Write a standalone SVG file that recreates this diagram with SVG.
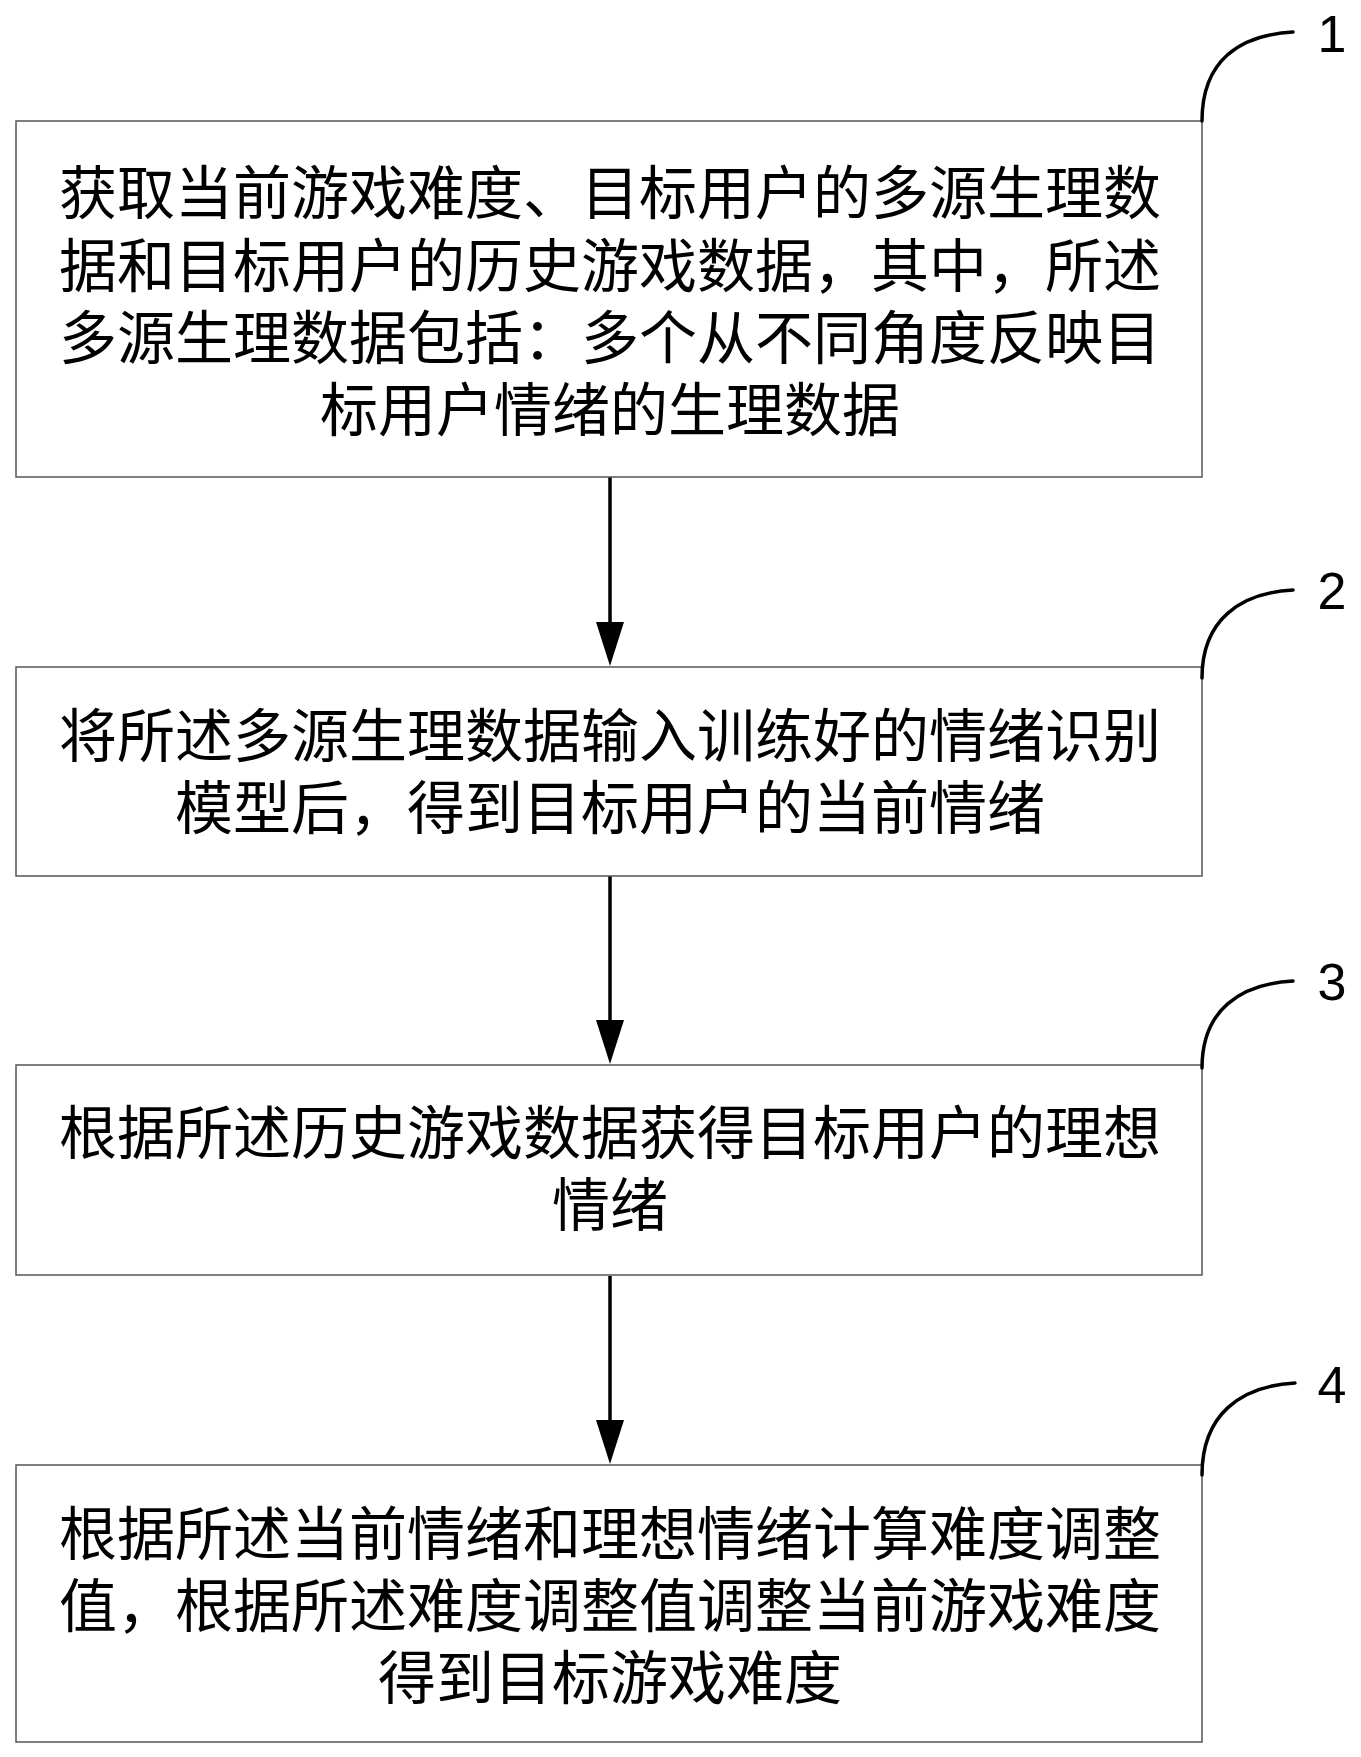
<svg xmlns="http://www.w3.org/2000/svg" width="1361" height="1757" viewBox="0 0 1361 1757">
<defs>
<style>
.box{fill:#fff;stroke:#555;stroke-width:1.5}
.t{font-family:"Noto Sans CJK SC","Noto Sans CJK JP",sans-serif;font-size:58px;fill:#000;text-anchor:middle}
.num{font-family:"Liberation Sans","Open Sans",sans-serif;font-size:52px;fill:#000;text-anchor:middle}
.lead{fill:none;stroke:#000;stroke-width:3.5;stroke-linecap:round}
.arr{stroke:#000;stroke-width:3.5;fill:none}
.head{fill:#000}
</style>
</defs>
<rect width="1361" height="1757" fill="#fff"/>
<g id="connectors">
<line class="arr" x1="610" y1="477" x2="610" y2="625"/>
<polygon class="head" points="596,622 624,622 610,666"/>
<line class="arr" x1="610" y1="876" x2="610" y2="1023"/>
<polygon class="head" points="596,1020 624,1020 610,1064"/>
<line class="arr" x1="610" y1="1276" x2="610" y2="1423"/>
<polygon class="head" points="596,1420 624,1420 610,1464"/>
</g>
<g id="node1">
<rect class="box" x="16" y="121" width="1186" height="356"/>
<text class="t" x="610" y="214">获取当前游戏难度、目标用户的多源生理数</text>
<text class="t" x="610" y="287">据和目标用户的历史游戏数据，其中，所述</text>
<text class="t" x="610" y="359">多源生理数据包括：多个从不同角度反映目</text>
<text class="t" x="610" y="431">标用户情绪的生理数据</text>
</g>
<g id="label1">
<path class="lead" d="M1202,121 C1202,60 1240,35 1293,32"/>
<text class="num" x="1332" y="52">1</text>
</g>
<g id="node2">
<rect class="box" x="16" y="667" width="1186" height="209"/>
<text class="t" x="610" y="757">将所述多源生理数据输入训练好的情绪识别</text>
<text class="t" x="610" y="829">模型后，得到目标用户的当前情绪</text>
</g>
<g id="label2">
<path class="lead" d="M1202,678 C1202,620 1240,593 1293,590"/>
<text class="num" x="1332" y="609">2</text>
</g>
<g id="node3">
<rect class="box" x="16" y="1065" width="1186" height="210"/>
<text class="t" x="610" y="1154">根据所述历史游戏数据获得目标用户的理想</text>
<text class="t" x="610" y="1226">情绪</text>
</g>
<g id="label3">
<path class="lead" d="M1202,1068 C1202,1010 1240,984 1293,981"/>
<text class="num" x="1332" y="1000">3</text>
</g>
<g id="node4">
<rect class="box" x="16" y="1465" width="1186" height="277"/>
<text class="t" x="610" y="1555">根据所述当前情绪和理想情绪计算难度调整</text>
<text class="t" x="610" y="1627">值，根据所述难度调整值调整当前游戏难度</text>
<text class="t" x="610" y="1699">得到目标游戏难度</text>
</g>
<g id="label4">
<path class="lead" d="M1202,1475 C1202,1415 1240,1386 1295,1383"/>
<text class="num" x="1332" y="1403">4</text>
</g>
</svg>
